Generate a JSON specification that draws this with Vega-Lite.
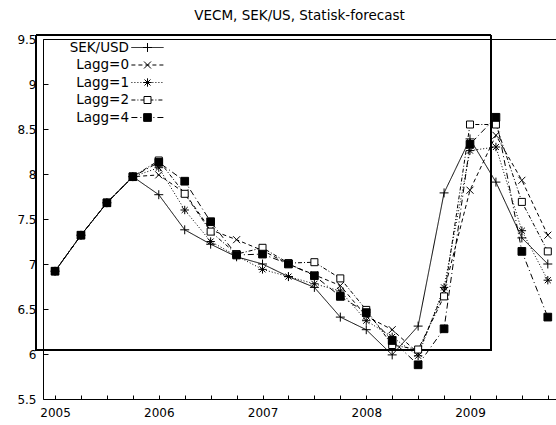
{
  "$schema": "https://vega.github.io/schema/vega-lite/v6.json",
  "width": 513,
  "height": 360,
  "autosize": {"type": "none"},
  "padding": {"left": 43, "top": 39, "right": 0, "bottom": 26},
  "background": "white",
  "title": {"text": "VECM,  SEK/US,  Statisk-forecast", "font": "DejaVu Sans", "fontSize": 13.5, "fontWeight": "normal", "color": "black", "anchor": "middle", "offset": 11},
  "config": {
    "view": {"stroke": null},
    "font": "DejaVu Sans",
    "axis": {"labelFont": "DejaVu Sans", "labelFontSize": 12, "labelColor": "black", "domainColor": "black", "tickColor": "black", "domainWidth": 1, "tickWidth": 1, "grid": false, "title": null, "labelOverlap": false, "labelFlush": false}
  },
  "data": {"values": [
    {"t": 2005.0, "s": "SEK/USD", "v": 6.92}, {"t": 2005.25, "s": "SEK/USD", "v": 7.32}, {"t": 2005.5, "s": "SEK/USD", "v": 7.68}, {"t": 2005.75, "s": "SEK/USD", "v": 7.97},
    {"t": 2006.0, "s": "SEK/USD", "v": 7.77}, {"t": 2006.25, "s": "SEK/USD", "v": 7.38}, {"t": 2006.5, "s": "SEK/USD", "v": 7.22}, {"t": 2006.75, "s": "SEK/USD", "v": 7.08},
    {"t": 2007.0, "s": "SEK/USD", "v": 7.0}, {"t": 2007.25, "s": "SEK/USD", "v": 6.86}, {"t": 2007.5, "s": "SEK/USD", "v": 6.74}, {"t": 2007.75, "s": "SEK/USD", "v": 6.41},
    {"t": 2008.0, "s": "SEK/USD", "v": 6.27}, {"t": 2008.25, "s": "SEK/USD", "v": 5.99}, {"t": 2008.5, "s": "SEK/USD", "v": 6.31}, {"t": 2008.75, "s": "SEK/USD", "v": 7.79},
    {"t": 2009.0, "s": "SEK/USD", "v": 8.39}, {"t": 2009.25, "s": "SEK/USD", "v": 7.91}, {"t": 2009.5, "s": "SEK/USD", "v": 7.29}, {"t": 2009.75, "s": "SEK/USD", "v": 7.0},

    {"t": 2005.0, "s": "Lagg=0", "v": 6.92}, {"t": 2005.25, "s": "Lagg=0", "v": 7.32}, {"t": 2005.5, "s": "Lagg=0", "v": 7.68}, {"t": 2005.75, "s": "Lagg=0", "v": 7.97},
    {"t": 2006.0, "s": "Lagg=0", "v": 7.99}, {"t": 2006.25, "s": "Lagg=0", "v": 7.79}, {"t": 2006.5, "s": "Lagg=0", "v": 7.38}, {"t": 2006.75, "s": "Lagg=0", "v": 7.27},
    {"t": 2007.0, "s": "Lagg=0", "v": 7.15}, {"t": 2007.25, "s": "Lagg=0", "v": 7.0}, {"t": 2007.5, "s": "Lagg=0", "v": 6.88}, {"t": 2007.75, "s": "Lagg=0", "v": 6.76},
    {"t": 2008.0, "s": "Lagg=0", "v": 6.42}, {"t": 2008.25, "s": "Lagg=0", "v": 6.27}, {"t": 2008.5, "s": "Lagg=0", "v": 6.01}, {"t": 2008.75, "s": "Lagg=0", "v": 6.7},
    {"t": 2009.0, "s": "Lagg=0", "v": 7.82}, {"t": 2009.25, "s": "Lagg=0", "v": 8.43}, {"t": 2009.5, "s": "Lagg=0", "v": 7.93}, {"t": 2009.75, "s": "Lagg=0", "v": 7.32},

    {"t": 2005.0, "s": "Lagg=1", "v": 6.92}, {"t": 2005.25, "s": "Lagg=1", "v": 7.32}, {"t": 2005.5, "s": "Lagg=1", "v": 7.68}, {"t": 2005.75, "s": "Lagg=1", "v": 7.97},
    {"t": 2006.0, "s": "Lagg=1", "v": 8.07}, {"t": 2006.25, "s": "Lagg=1", "v": 7.6}, {"t": 2006.5, "s": "Lagg=1", "v": 7.25}, {"t": 2006.75, "s": "Lagg=1", "v": 7.09},
    {"t": 2007.0, "s": "Lagg=1", "v": 6.94}, {"t": 2007.25, "s": "Lagg=1", "v": 6.86}, {"t": 2007.5, "s": "Lagg=1", "v": 6.78}, {"t": 2007.75, "s": "Lagg=1", "v": 6.7},
    {"t": 2008.0, "s": "Lagg=1", "v": 6.37}, {"t": 2008.25, "s": "Lagg=1", "v": 6.19}, {"t": 2008.5, "s": "Lagg=1", "v": 5.98}, {"t": 2008.75, "s": "Lagg=1", "v": 6.74},
    {"t": 2009.0, "s": "Lagg=1", "v": 8.26}, {"t": 2009.25, "s": "Lagg=1", "v": 8.3}, {"t": 2009.5, "s": "Lagg=1", "v": 7.37}, {"t": 2009.75, "s": "Lagg=1", "v": 6.82},

    {"t": 2005.0, "s": "Lagg=2", "v": 6.92}, {"t": 2005.25, "s": "Lagg=2", "v": 7.32}, {"t": 2005.5, "s": "Lagg=2", "v": 7.68}, {"t": 2005.75, "s": "Lagg=2", "v": 7.97},
    {"t": 2006.0, "s": "Lagg=2", "v": 8.15}, {"t": 2006.25, "s": "Lagg=2", "v": 7.78}, {"t": 2006.5, "s": "Lagg=2", "v": 7.36}, {"t": 2006.75, "s": "Lagg=2", "v": 7.11},
    {"t": 2007.0, "s": "Lagg=2", "v": 7.18}, {"t": 2007.25, "s": "Lagg=2", "v": 7.01}, {"t": 2007.5, "s": "Lagg=2", "v": 7.02}, {"t": 2007.75, "s": "Lagg=2", "v": 6.84},
    {"t": 2008.0, "s": "Lagg=2", "v": 6.49}, {"t": 2008.25, "s": "Lagg=2", "v": 6.1}, {"t": 2008.5, "s": "Lagg=2", "v": 6.05}, {"t": 2008.75, "s": "Lagg=2", "v": 6.64},
    {"t": 2009.0, "s": "Lagg=2", "v": 8.55}, {"t": 2009.25, "s": "Lagg=2", "v": 8.55}, {"t": 2009.5, "s": "Lagg=2", "v": 7.69}, {"t": 2009.75, "s": "Lagg=2", "v": 7.14},

    {"t": 2005.0, "s": "Lagg=4", "v": 6.92}, {"t": 2005.25, "s": "Lagg=4", "v": 7.32}, {"t": 2005.5, "s": "Lagg=4", "v": 7.68}, {"t": 2005.75, "s": "Lagg=4", "v": 7.97},
    {"t": 2006.0, "s": "Lagg=4", "v": 8.13}, {"t": 2006.25, "s": "Lagg=4", "v": 7.92}, {"t": 2006.5, "s": "Lagg=4", "v": 7.47}, {"t": 2006.75, "s": "Lagg=4", "v": 7.1},
    {"t": 2007.0, "s": "Lagg=4", "v": 7.11}, {"t": 2007.25, "s": "Lagg=4", "v": 7.0}, {"t": 2007.5, "s": "Lagg=4", "v": 6.87}, {"t": 2007.75, "s": "Lagg=4", "v": 6.64},
    {"t": 2008.0, "s": "Lagg=4", "v": 6.46}, {"t": 2008.25, "s": "Lagg=4", "v": 6.15}, {"t": 2008.5, "s": "Lagg=4", "v": 5.88}, {"t": 2008.75, "s": "Lagg=4", "v": 6.28},
    {"t": 2009.0, "s": "Lagg=4", "v": 8.33}, {"t": 2009.25, "s": "Lagg=4", "v": 8.63}, {"t": 2009.5, "s": "Lagg=4", "v": 7.14}, {"t": 2009.75, "s": "Lagg=4", "v": 6.41}
  ]},
  "layer": [
    {
      "mark": {"type": "rect", "fill": null, "stroke": "black", "strokeWidth": 1},
      "encoding": {
        "x": {"datum": 2004.817, "type": "quantitative", "scale": {"domain": [2004.884, 2009.829], "nice": false, "zero": false},
              "axis": {"orient": "bottom", "offset": -4, "tickSize": 4, "labels": false, "domain": false, "values": [2005, 2005.25, 2005.5, 2005.75, 2006, 2006.25, 2006.5, 2006.75, 2007, 2007.25, 2007.5, 2007.75, 2008, 2008.25, 2008.5, 2008.75, 2009, 2009.25, 2009.5, 2009.75]}},
        "x2": {"datum": 2009.202},
        "y": {"datum": 9.544, "type": "quantitative", "scale": {"domain": [5.5, 9.5], "nice": false, "zero": false},
              "axis": {"values": [5.5, 6, 6.5, 7, 7.5, 8, 8.5, 9, 9.5], "format": ".1~f", "ticks": false, "labelPadding": 7}},
        "y2": {"datum": 6.043}
      }
    },
    {
      "mark": {"type": "line", "color": "black", "strokeWidth": 1, "clip": false},
      "encoding": {
        "x": {"field": "t", "type": "quantitative",
              "axis": {"orient": "bottom", "values": [2005, 2006, 2007, 2008, 2009], "format": "d", "ticks": false, "labelPadding": 8}},
        "y": {"field": "v", "type": "quantitative",
              "axis": {"orient": "left", "offset": -5, "tickSize": 5, "labels": false, "domain": false, "values": [5.5, 6, 6.5, 7, 7.5, 8, 8.5, 9, 9.5]}},
        "strokeDash": {"field": "s", "type": "nominal",
          "scale": {"domain": ["Lagg=4", "Lagg=2", "Lagg=1", "Lagg=0", "SEK/USD"], "range": [[6, 3, 1, 3], [4, 2, 1, 2], [1, 2], [4, 3], [1, 0]]},
          "legend": {"orient": "none", "legendX": 97, "legendY": 1, "title": null, "padding": 0, "values": ["SEK/USD", "Lagg=0", "Lagg=1", "Lagg=2", "Lagg=4"],
                     "symbolType": "M-2.3,0H2.3", "symbolSize": 196, "symbolStrokeWidth": 1, "symbolStrokeColor": "black", "symbolFillColor": "transparent",
                     "labelAlign": "right", "labelOffset": -26, "labelFont": "DejaVu Sans", "labelFontSize": 13.5, "labelColor": "black", "rowPadding": 3.5}}
      }
    },
    {
      "mark": {"type": "point", "filled": false, "color": "black", "strokeWidth": 1, "size": 196, "opacity": 1},
      "encoding": {
        "x": {"field": "t", "type": "quantitative", "axis": {"orient": "top", "labels": false, "ticks": false, "domain": true}},
        "y": {"field": "v", "type": "quantitative", "axis": null},
        "shape": {"field": "s", "type": "nominal",
          "scale": {"domain": ["SEK/USD", "Lagg=0", "Lagg=1", "Lagg=2", "Lagg=4"],
                    "range": ["M-0.64,0H0.64M0,-0.64V0.64", "M-0.5,-0.5L0.5,0.5M-0.5,0.5L0.5,-0.5", "M-0.6,0H0.6M0,-0.6V0.6M-0.43,-0.43L0.43,0.43M-0.43,0.43L0.43,-0.43", "M-0.5,-0.5H0.5V0.5H-0.5Z", "M-0.55,-0.55H0.55V0.55H-0.55Z"]},
          "legend": {"orient": "none", "legendX": 97, "legendY": 1, "title": null, "padding": 0, "symbolSize": 196, "symbolStrokeWidth": 1,
                     "labelAlign": "right", "labelOffset": -26, "labelFont": "DejaVu Sans", "labelFontSize": 13.5, "labelColor": "transparent", "rowPadding": 3.5}},
        "fill": {"field": "s", "type": "nominal",
          "scale": {"domain": ["SEK/USD", "Lagg=0", "Lagg=1", "Lagg=2", "Lagg=4"], "range": ["white", "white", "white", "white", "black"]},
          "legend": {"orient": "none", "legendX": 97, "legendY": 1, "title": null, "padding": 0, "symbolSize": 196, "symbolStrokeWidth": 1,
                     "labelAlign": "right", "labelOffset": -26, "labelFont": "DejaVu Sans", "labelFontSize": 13.5, "labelColor": "transparent", "rowPadding": 3.5}},
        "stroke": {"field": "s", "type": "nominal",
          "scale": {"domain": ["SEK/USD", "Lagg=0", "Lagg=1", "Lagg=2", "Lagg=4"], "range": ["black", "black", "black", "black", "black"]},
          "legend": {"orient": "none", "legendX": 97, "legendY": 1, "title": null, "padding": 0, "symbolSize": 196, "symbolStrokeWidth": 1,
                     "labelAlign": "right", "labelOffset": -26, "labelFont": "DejaVu Sans", "labelFontSize": 13.5, "labelColor": "transparent", "rowPadding": 3.5}}
      }
    }
  ],
  "resolve": {"axis": {"x": "independent", "y": "independent"}}
}
